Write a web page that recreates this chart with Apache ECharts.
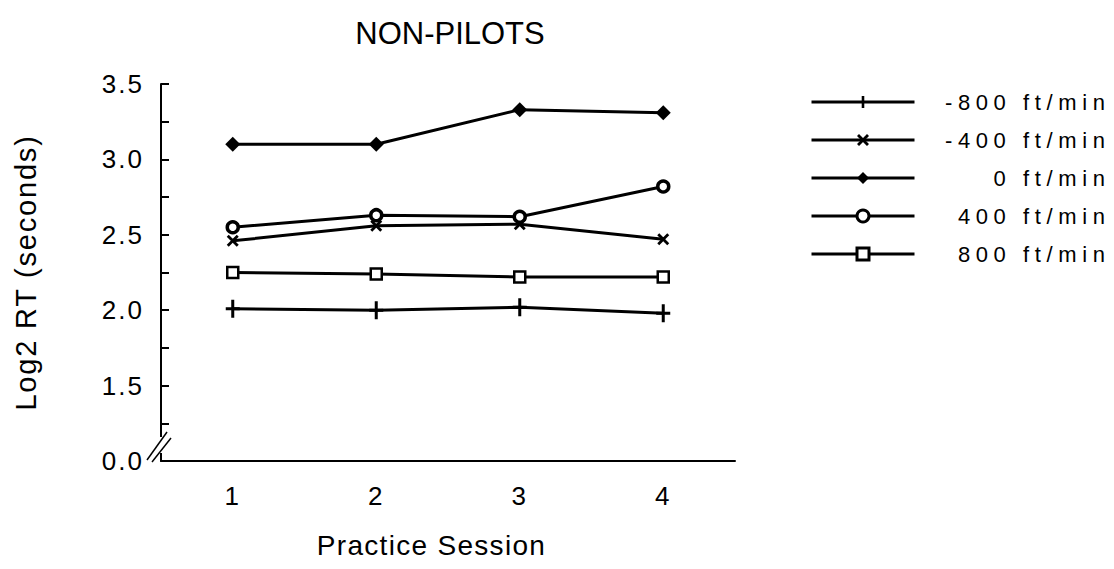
<!DOCTYPE html>
<html>
<head>
<meta charset="utf-8">
<script src="https://cdn.jsdelivr.net/npm/echarts@6/dist/echarts.min.js"></script>
<style>
html,body{margin:0;padding:0;background:#fff;}
#chart{width:1114px;height:569px;}
#chart text[style*="26px"]{letter-spacing:2px;}
#chart text[style*="22px"]{letter-spacing:5.6px;}
#chart text[style*="28px"]{letter-spacing:1.3px;}
#chart text[style*="29px"]{letter-spacing:1.8px;}
</style>
</head>
<body>
<div id="chart"></div>
<script>
const sessions = ['1', '2', '3', '4'];
const seriesNames = ['-800 ft/min', '-400 ft/min', '0 ft/min', '400 ft/min', '800 ft/min'];
const minus800 = [2.01, 2.00, 2.02, 1.98];
const minus400 = [2.46, 2.56, 2.57, 2.47];
const zero = [3.10, 3.10, 3.33, 3.31];
const plus400 = [2.55, 2.63, 2.62, 2.82];
const plus800 = [2.25, 2.24, 2.22, 2.22];
const yTickLabels = {1: '0.0', 1.5: '1.5', 2: '2.0', 2.5: '2.5', 3: '3.0', 3.5: '3.5'};

const FONT = 'Liberation Sans, Arial, Helvetica, sans-serif';
const plusPath = 'path://M-1.5,-9L1.5,-9L1.5,-1.5L7,-1.5L7,1.5L1.5,1.5L1.5,9L-1.5,9L-1.5,1.5L-7,1.5L-7,-1.5L-1.5,-1.5Z';
const crossPath = 'path://M-6,-4L-4,-6L6,4L4,6Z M4,-6L6,-4L-4,6L-6,4Z';

const styles = [
  {symbol: plusPath, size: [14, 18], fill: '#000', bw: 0},
  {symbol: crossPath, size: [12, 12], fill: '#000', bw: 0},
  {symbol: 'diamond', size: [15, 15], fill: '#000', bw: 0},
  {symbol: 'circle', size: 11, fill: '#fff', bw: 3.5},
  {symbol: 'rect', size: 11, fill: '#fff', bw: 2.5}
];
const values = [minus800, minus400, zero, plus400, plus800];

const series = seriesNames.map(function (name, i) {
  const s = styles[i];
  return {
    name: name,
    type: 'line',
    data: values[i],
    symbol: s.symbol,
    symbolSize: s.size,
    showSymbol: true,
    lineStyle: {color: '#000', width: 3},
    itemStyle: {color: s.fill, borderColor: '#000', borderWidth: s.bw},
    emphasis: {disabled: true},
    silent: true
  };
});

const legendData = seriesNames.map(function (name, i) {
  const s = styles[i];
  return {name: name, itemStyle: {color: s.fill, borderColor: '#000', borderWidth: s.bw ? 3 : 0}};
});

const chart = echarts.init(document.getElementById('chart'), null, {renderer: 'svg'});
chart.setOption({
  animation: false,
  backgroundColor: '#fff',
  title: {
    text: 'NON-PILOTS',
    left: 445,
    top: 13,
    textAlign: 'center',
    textStyle: {fontFamily: FONT, fontSize: 31, fontWeight: 'normal', color: '#000'}
  },
  legend: {
    orient: 'vertical',
    left: 805,
    top: 86,
    padding: 5,
    itemWidth: 103,
    itemHeight: 15,
    itemGap: 16,
    selectedMode: false,
    data: legendData,
    lineStyle: {color: '#000', width: 3},
    formatter: function (n) { return '{t|' + n + '}'; },
    textStyle: {
      fontFamily: FONT, fontSize: 22, color: '#000',
      rich: {t: {fontFamily: FONT, fontSize: 22, color: '#000', width: 191, align: 'right'}}
    }
  },
  grid: {left: 161, right: 379, top: 84, bottom: 108, containLabel: false, outerBoundsMode: 'none'},
  xAxis: {
    type: 'category',
    data: sessions,
    boundaryGap: true,
    name: 'Practice Session',
    nameLocation: 'middle',
    nameGap: 70,
    nameTextStyle: {fontFamily: FONT, fontSize: 28, color: '#000', padding: [0, 33, 0, 0]},
    axisLine: {lineStyle: {color: '#000', width: 2}},
    axisTick: {alignWithLabel: true, inside: true, length: 8, lineStyle: {color: '#000', width: 2}},
    axisLabel: {fontFamily: FONT, fontSize: 26, color: '#000', margin: 22},
    splitLine: {show: false}
  },
  yAxis: {
    type: 'value',
    min: 1,
    max: 3.5,
    interval: 0.25,
    name: 'Log2 RT (seconds)',
    nameLocation: 'middle',
    nameGap: 121,
    nameTextStyle: {fontFamily: FONT, fontSize: 29, color: '#000'},
    axisLine: {show: true, lineStyle: {color: '#000', width: 2}},
    axisTick: {show: true, inside: true, length: 8, lineStyle: {color: '#000', width: 2}},
    axisLabel: {
      fontFamily: FONT, fontSize: 26, color: '#000', margin: 17,
      formatter: function (v) {
        const k = Math.round(v * 100) / 100;
        return yTickLabels[k] !== undefined ? yTickLabels[k] : '';
      }
    },
    splitLine: {show: false}
  },
  series: series,
  graphic: [
    {type: 'rect', shape: {x: 155, y: 437, width: 12, height: 16}, style: {fill: '#fff'}, z: 100},
    {type: 'line', shape: {x1: 147, y1: 460, x2: 167, y2: 432}, style: {stroke: '#000', lineWidth: 1.5}, z: 101},
    {type: 'line', shape: {x1: 152, y1: 462, x2: 171, y2: 438}, style: {stroke: '#000', lineWidth: 1.5}, z: 101}
  ]
});
</script>
</body>
</html>
